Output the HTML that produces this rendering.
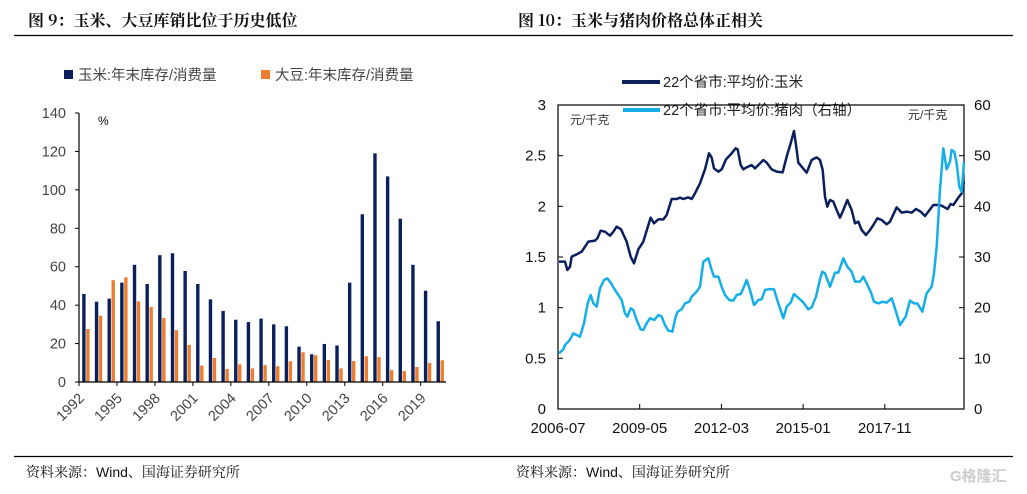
<!DOCTYPE html>
<html><head><meta charset="utf-8"><style>
body{margin:0;background:#fff;width:1027px;height:494px;overflow:hidden}
svg{display:block}
text{font-family:"Liberation Sans","Noto Sans CJK SC",sans-serif}
.t{font-family:"Noto Serif CJK SC","Noto Sans CJK SC",serif;font-weight:bold;font-size:16px;fill:#111}
.s{font-family:"Liberation Sans","Noto Serif CJK SC",serif;font-size:14px;fill:#111}
</style></head><body>
<svg id="c" width="1027" height="494" xmlns="http://www.w3.org/2000/svg">
<text x="28" y="26" class="t">图 9：玉米、大豆库销比位于历史低位</text>
<text x="518" y="26" class="t">图 10：玉米与猪肉价格总体正相关</text>
<line x1="14" y1="35.5" x2="1013" y2="35.5" stroke="#000" stroke-width="1.3"/>
<line x1="14" y1="456.5" x2="1013" y2="456.5" stroke="#000" stroke-width="1.3"/>
<text x="26" y="477" class="s">资料来源：Wind、国海证券研究所</text>
<text x="516" y="477" class="s">资料来源：Wind、国海证券研究所</text>
<text x="950" y="481" font-size="15" fill="#ccc" font-weight="bold">G格隆汇</text>

<rect x="64" y="70" width="9" height="9" fill="#0a1f5c"/>
<text x="78" y="80" font-size="14.5" fill="#444">玉米:年末库存/消费量</text>
<rect x="261" y="70" width="9" height="9" fill="#ed7d31"/>
<text x="275" y="80" font-size="14.5" fill="#444">大豆:年末库存/消费量</text>
<text x="98" y="125" font-size="12" fill="#000">%</text>
<g id="left" font-size="14.5" fill="#444"></g>

<g font-size="14" fill="#111">
<line x1="622" y1="82" x2="660" y2="82" stroke="#0a1f5c" stroke-width="4"/>
<text x="663" y="87" font-size="14.5" fill="#222">22个省市:平均价:玉米</text>
<line x1="623" y1="110" x2="660" y2="110" stroke="#16aee6" stroke-width="4"/>
<text x="663" y="115" font-size="14.5" fill="#222">22个省市:平均价:猪肉（右轴）</text>
<text x="570" y="124" font-size="12" fill="#333">元/千克</text>
<text x="908" y="119" font-size="12" fill="#333">元/千克</text>
</g>
<g id="right" font-size="15" fill="#111"></g>
<g transform="translate(510,90) scale(0.33333)" fill="none" stroke-width="7.5" stroke-linejoin="round">
<polyline stroke="#0a1f5c" points="147,515 165,515 172,540 180,530 185,500 200,493 215,485 225,470 235,455 255,452 262,445 272,422 285,425 300,437 310,425 320,410 333,418 350,455 362,500 372,520 385,478 400,455 412,415 422,383 432,400 445,388 460,388 470,375 485,327 500,327 510,323 520,327 535,322 545,327 555,310 570,280 585,238 597,190 605,203 612,235 625,245 635,238 648,208 665,190 677,175 683,178 692,225 700,238 710,232 725,225 735,235 745,225 760,210 770,218 785,238 800,245 818,247 830,200 842,160 852,123 858,165 865,218 875,230 890,248 905,210 920,202 930,210 938,240 945,320 952,350 960,330 970,335 980,360 990,383 1000,360 1012,330 1025,360 1035,400 1045,395 1055,420 1068,435 1080,420 1090,405 1102,385 1115,390 1130,403 1140,395 1160,352 1175,368 1192,365 1205,368 1218,357 1232,365 1245,378 1255,365 1270,345 1290,345 1300,350 1313,357 1322,342 1330,345 1345,323 1355,310 1362,275"/>
<polyline stroke="#16aee6" points="147,790 160,778 165,765 178,752 190,730 200,735 210,740 222,700 233,640 242,615 250,640 260,650 270,595 282,570 292,565 302,578 315,600 325,615 335,630 345,670 352,680 362,655 370,660 380,690 392,718 400,720 410,700 420,685 433,690 445,675 455,680 465,705 475,722 487,725 497,680 503,665 515,658 525,640 538,635 545,620 560,605 570,590 580,515 595,505 605,540 612,560 625,560 635,590 645,615 658,630 670,632 680,615 692,612 700,595 710,570 720,600 732,645 745,630 755,628 765,600 780,597 792,598 805,640 820,685 830,650 842,638 852,612 863,622 878,635 895,658 905,652 918,620 930,568 937,545 945,550 960,590 975,548 985,548 1000,505 1012,530 1025,545 1035,575 1050,575 1060,560 1070,580 1082,605 1092,635 1105,640 1118,635 1130,638 1145,625 1155,655 1170,705 1180,690 1187,680 1200,632 1212,640 1222,640 1237,665 1250,610 1265,590 1272,550 1280,470 1290,300 1300,175 1310,238 1320,215 1325,180 1333,185 1340,220 1348,290 1355,305 1362,215"/>
</g>
</svg>
<script>
var NS="http://www.w3.org/2000/svg";
function el(p,t,a,txt){var e=document.createElementNS(NS,t);for(var k in a)e.setAttribute(k,a[k]);if(txt!=null)e.textContent=txt;p.appendChild(e);return e;}
var L=document.getElementById("left");
var x0=79,x1=446,y0=382,yt=113,sc=(y0-yt)/140;
var corn=[45.8,41.8,43.4,51.7,61,51,66,67,57.8,51,43,37,32.4,31.2,33,30,29,18.4,14.4,19.8,19,51.7,87.3,119,107,85,61,47.5,31.6];
var soy=[27.6,34.5,53,54.5,42,39,33.3,27,19.3,8.5,12.5,6.8,9.2,7.1,8.8,8.2,10.8,15.5,13.9,11.5,7.1,10.9,13.4,12.9,6.2,5.7,7.8,9.9,11.3];
var sw=(x1-x0)/29;
for(var i=0;i<29;i++){var sx=x0+i*sw;
el(L,"rect",{x:sx+3.2,y:y0-corn[i]*sc,width:3.4,height:corn[i]*sc,fill:"#0a1f5c"});
el(L,"rect",{x:sx+7.2,y:y0-soy[i]*sc,width:3.4,height:soy[i]*sc,fill:"#ed7d31"});}
el(L,"line",{x1:x0,y1:yt,x2:x0,y2:y0,stroke:"#000","stroke-width":1.2});
el(L,"line",{x1:x0,y1:y0,x2:x1,y2:y0,stroke:"#000","stroke-width":1.2});
for(var v=0;v<=140;v+=20){var y=y0-v*sc;el(L,"line",{x1:x0-4,y1:y,x2:x0,y2:y,stroke:"#000"});el(L,"text",{x:x0-13,y:y+5,"text-anchor":"end"},v);}
for(var j=0;j<10;j++){var tx=x0+j*3*sw;el(L,"line",{x1:tx,y1:y0,x2:tx,y2:y0+4,stroke:"#000"});
var ax=tx+6,ay=y0+17;
el(L,"text",{x:ax,y:ay,"text-anchor":"end",transform:"rotate(-45 "+ax+" "+ay+")"},1992+j*3);}
var R=document.getElementById("right");
var rx0=558,rx1=964,ry0=409,ry1=105;
el(R,"rect",{x:rx0,y:ry1,width:rx1-rx0,height:ry0-ry1,fill:"none",stroke:"#000","stroke-width":1.2});
var lab=["0","0.5","1","1.5","2","2.5","3"];
for(var k=0;k<7;k++){var y=ry0-k*(ry0-ry1)/6;
el(R,"line",{x1:rx0,y1:y,x2:rx0+5,y2:y,stroke:"#000"});el(R,"line",{x1:rx1-5,y1:y,x2:rx1,y2:y,stroke:"#000"});
el(R,"text",{x:546,y:y+5,"text-anchor":"end"},lab[k]);el(R,"text",{x:974,y:y+5},k*10);}
var xl=["2006-07","2009-05","2012-03","2015-01","2017-11"];
for(var k=0;k<5;k++){var tx=rx0+k*81.7;el(R,"line",{x1:tx,y1:ry0,x2:tx,y2:ry0-5,stroke:"#000"});el(R,"text",{x:tx,y:433,"text-anchor":"middle"},xl[k]);}
</script>
</body></html>
